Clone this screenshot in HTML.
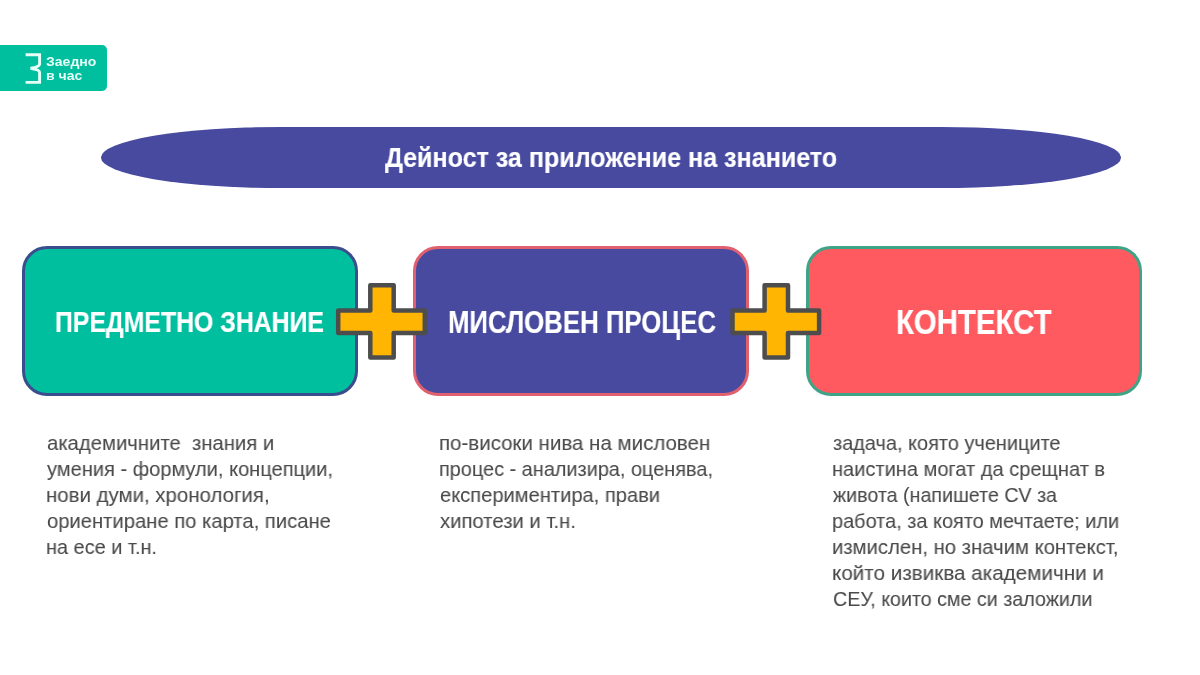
<!DOCTYPE html>
<html><head><meta charset="utf-8">
<style>
html,body{margin:0;padding:0;background:#fff;}
body{width:1200px;height:675px;position:relative;overflow:hidden;font-family:"Liberation Sans",sans-serif;}
.abs{position:absolute;}
.box{position:absolute;box-sizing:border-box;border-radius:25px;top:245.9px;height:150px;width:336px;border:3px solid;}
.hd{position:absolute;will-change:transform;color:#fff;-webkit-text-stroke:0.2px #fff;font-weight:700;white-space:pre;transform-origin:0 0;line-height:1;}
.lg{position:absolute;will-change:transform;color:#E8FFF8;font-weight:700;white-space:pre;transform-origin:0 0;line-height:1;}
.ln{position:absolute;will-change:transform;color:#4A4A4A;-webkit-text-stroke:0.08px #4A4A4A;font-size:22px;white-space:pre;transform-origin:0 0;line-height:1;}
</style></head>
<body>
<!-- logo -->
<div class="abs" style="left:0;top:45.2px;width:106.7px;height:46.2px;background:#00BF9F;border-radius:0 5px 5px 0;"></div>
<svg class="abs" style="left:0;top:0" width="120" height="100">
  <path d="M25.6 54.7 H39.6 V64.2 Q39.6 66.6 30.6 68.2 Q39.6 69.8 39.6 72.2 V82.4 H25.6" fill="none" stroke="#E8FFF8" stroke-width="2.9" stroke-linejoin="miter"/>
</svg>
<div class="lg" style="left:46px;top:55px;font-size:13px;transform:scaleX(1.08)">Заедно</div>
<div class="lg" style="left:46px;top:69px;font-size:13px;transform:scaleX(1.08)">в час</div>
<!-- title ellipse -->
<div class="abs" style="left:101.4px;top:127.2px;width:1019.8px;height:60.6px;background:#474A9F;border-radius:180px / 30.3px;"></div>
<!-- boxes -->
<div class="box" style="left:21.8px;background:#00BF9F;border-color:#3A4E8E;"></div>
<div class="box" style="left:413.1px;background:#474A9F;border-color:#E0606F;"></div>
<div class="box" style="left:805.6px;background:#FF5A5F;border-color:#3FA487;"></div>

<!-- plus signs -->
<svg class="abs" style="left:0;top:0" width="1200" height="400">
  <g fill="#FFB502" stroke="#4D4D4D" stroke-width="4.5" stroke-linejoin="round">
    <path d="M370.3 285.2 H393.7 V310.4 H424.8 V333 H393.7 V357.4 H370.3 V333 H338.2 V310.4 H370.3 Z"/>
    <path transform="translate(2.3,0)" d="M762.3 285.2 H785.7 V310.4 H816.8 V333 H785.7 V357.4 H762.3 V333 H730.2 V310.4 H762.3 Z"/>
  </g>
</svg>

<div class="hd" style="left:385.10px;top:144.28px;font-size:28px;transform:scaleX(0.8951)">Дейност за приложение на знанието</div>
<div class="hd" style="left:55.14px;top:308.44px;font-size:29px;transform:scaleX(0.8562)">ПРЕДМЕТНО ЗНАНИЕ</div>
<div class="hd" style="left:448.17px;top:306.74px;font-size:31px;transform:scaleX(0.8321)">МИСЛОВЕН ПРОЦЕС</div>
<div class="hd" style="left:896.16px;top:304.36px;font-size:35px;transform:scaleX(0.8395)">КОНТЕКСТ</div>
<div class="ln" style="left:47.30px;top:431.81px;font-size:21px;transform:scaleX(0.9660)">академичните  знания и</div>
<div class="ln" style="left:47.30px;top:457.86px;font-size:21px;transform:scaleX(0.9545)">умения - формули, концепции,</div>
<div class="ln" style="left:46.33px;top:483.91px;font-size:21px;transform:scaleX(0.9732)">нови думи, хронология,</div>
<div class="ln" style="left:47.30px;top:509.96px;font-size:21px;transform:scaleX(0.9625)">ориентиране по карта, писане</div>
<div class="ln" style="left:46.35px;top:536.01px;font-size:21px;transform:scaleX(0.9496)">на есе и т.н.</div>
<div class="ln" style="left:439.02px;top:431.81px;font-size:21px;transform:scaleX(0.9755)">по-високи нива на мисловен</div>
<div class="ln" style="left:439.05px;top:457.86px;font-size:21px;transform:scaleX(0.9470)">процес - анализира, оценява,</div>
<div class="ln" style="left:440.00px;top:483.91px;font-size:21px;transform:scaleX(0.9576)">експериментира, прави</div>
<div class="ln" style="left:440.00px;top:509.96px;font-size:21px;transform:scaleX(0.9657)">хипотези и т.н.</div>
<div class="ln" style="left:833.30px;top:431.81px;font-size:21px;transform:scaleX(0.9490)">задача, която учениците</div>
<div class="ln" style="left:832.35px;top:457.86px;font-size:21px;transform:scaleX(0.9540)">наистина могат да срещнат в</div>
<div class="ln" style="left:833.30px;top:483.91px;font-size:21px;transform:scaleX(0.9363)">живота (напишете CV за</div>
<div class="ln" style="left:832.35px;top:509.96px;font-size:21px;transform:scaleX(0.9485)">работа, за която мечтаете; или</div>
<div class="ln" style="left:832.33px;top:536.01px;font-size:21px;transform:scaleX(0.9658)">измислен, но значим контекст,</div>
<div class="ln" style="left:832.32px;top:562.06px;font-size:21px;transform:scaleX(0.9833)">който извиква академични и</div>
<div class="ln" style="left:833.30px;top:588.11px;font-size:21px;transform:scaleX(0.9373)">СЕУ, които сме си заложили</div>
</body></html>
